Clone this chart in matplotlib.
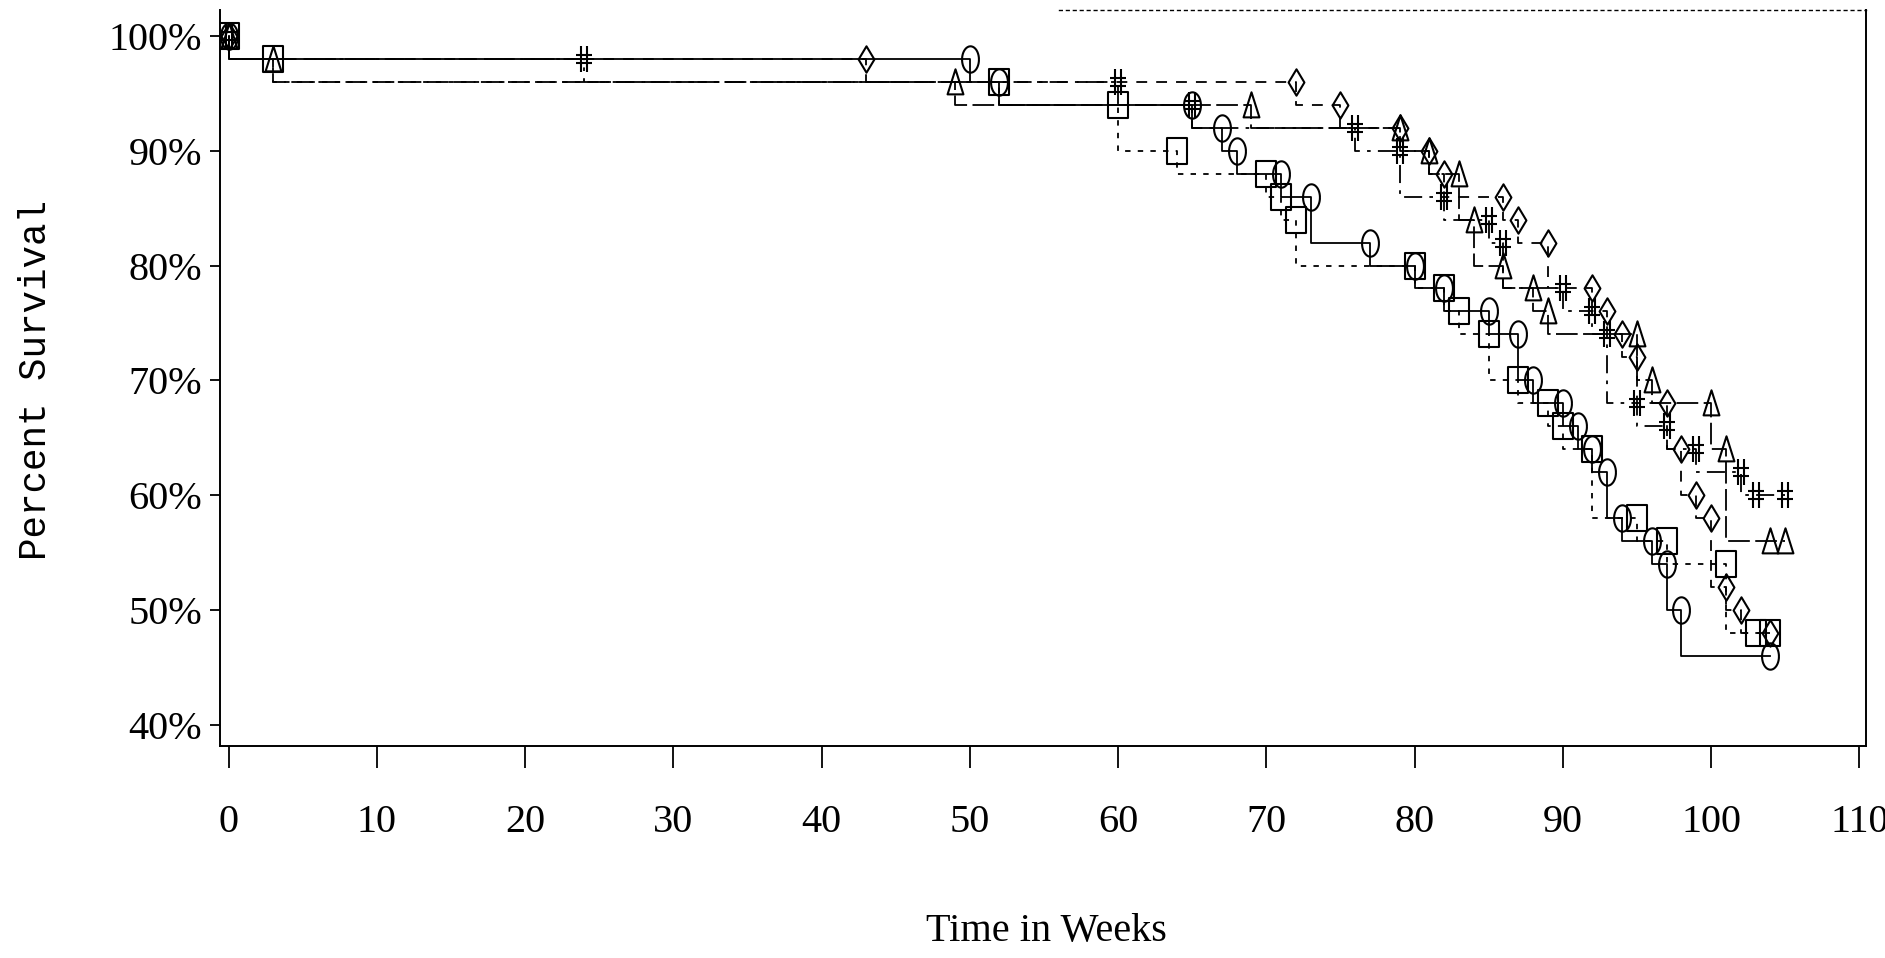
import numpy as np
import matplotlib.pyplot as plt
from matplotlib.path import Path

# survival curves, one per group: time (weeks) of each marker and % survival there
sq_t = [0, 3, 52, 60, 64, 70, 71, 72, 80, 82, 83, 85, 87, 89, 90, 92, 95, 97, 101, 103, 104]
sq_s = [100, 98, 96, 94, 90, 88, 86, 84, 80, 78, 76, 74, 70, 68, 66, 64, 58, 56, 54, 48, 48]

ci_t = [0, 50, 52, 65, 67, 68, 71, 73, 77, 80, 82, 85, 87, 88, 90, 91, 92, 93, 94, 96, 97, 98, 104]
ci_s = [100, 98, 96, 94, 92, 90, 88, 86, 82, 80, 78, 76, 74, 70, 68, 66, 64, 62, 58, 56, 54, 50, 46]

tr_t = [0, 3, 49, 69, 79, 81, 83, 84, 86, 88, 89, 95, 96, 100, 101, 104, 105]
tr_s = [100, 98, 96, 94, 92, 90, 88, 84, 80, 78, 76, 74, 70, 68, 64, 56, 56]

di_t = [0, 43, 72, 75, 79, 81, 82, 86, 87, 89, 92, 93, 94, 95, 97, 98, 99, 100, 101, 102, 104]
di_s = [100, 98, 96, 94, 92, 90, 88, 86, 84, 82, 78, 76, 74, 72, 68, 64, 60, 58, 52, 50, 48]

hs_t = [0, 24, 60, 65, 76, 79, 82, 85, 86, 90, 92, 93, 95, 97, 99, 102, 103, 105]
hs_s = [100, 98, 96, 94, 92, 90, 86, 84, 82, 78, 76, 74, 68, 66, 64, 62, 60, 60]

x_ticks = list(range(0, 111, 10))
y_ticks = [40, 50, 60, 70, 80, 90, 100]
y_labels = ['40%', '50%', '60%', '70%', '80%', '90%', '100%']

# tall, narrow plotting symbols like the old line-printer plot
th = np.linspace(0, 2 * np.pi, 40)
m_circle = Path(np.column_stack([0.32 * np.cos(th), 0.5 * np.sin(th)]))
m_square = Path([(-0.33, -0.45), (0.33, -0.45), (0.33, 0.45), (-0.33, 0.45), (-0.33, -0.45)],
                [Path.MOVETO, Path.LINETO, Path.LINETO, Path.LINETO, Path.CLOSEPOLY])
m_diamond = Path([(0, 0.5), (0.3, 0), (0, -0.5), (-0.3, 0), (0, 0.5)],
                 [Path.MOVETO, Path.LINETO, Path.LINETO, Path.LINETO, Path.CLOSEPOLY])
m_tri = Path([(0, 0.5), (0.3, -0.45), (-0.3, -0.45), (0, 0.5)],
             [Path.MOVETO, Path.LINETO, Path.LINETO, Path.CLOSEPOLY])
m_hash = Path([(-0.12, -0.5), (-0.12, 0.5), (0.12, -0.5), (0.12, 0.5),
               (-0.3, 0.15), (0.3, 0.15), (-0.3, -0.15), (0.3, -0.15)],
              [Path.MOVETO, Path.LINETO] * 4)

groups = [
    (sq_t, sq_s, m_square, (0, (3, 4))),
    (ci_t, ci_s, m_circle, '-'),
    (tr_t, tr_s, m_tri, (0, (12, 3))),
    (di_t, di_s, m_diamond, (0, (6, 5))),
    (hs_t, hs_s, m_hash, (0, (10, 4, 2, 4))),
]

fig = plt.figure(figsize=(18.85, 9.58), dpi=100)
ax = fig.add_axes([0.1167, 0.2213, 0.8732, 0.7683])

for t, s, mk, ls in groups:
    ax.step(t, s, where='pre', color='black', lw=1.3, linestyle=ls)
    ax.plot(t, s, ls='none', marker=mk, ms=19, mfc='none', mec='black', mew=1.5)

ax.set_xlim(-0.58, 110.45)
ax.set_ylim(38.15, 102.26)

ax.set_xticks(x_ticks)
ax.set_xticklabels([str(v) for v in x_ticks])
ax.set_yticks(y_ticks)
ax.set_yticklabels(y_labels)

for lab in ax.get_xticklabels() + ax.get_yticklabels():
    lab.set_fontfamily('Liberation Serif')
    lab.set_fontsize(29)

ax.tick_params(axis='x', direction='out', length=16, width=1.3, pad=26)
ax.tick_params(axis='y', direction='out', length=7, width=1.3, pad=6)

for side in ['left', 'right', 'bottom']:
    ax.spines[side].set_linewidth(1.4)
ax.spines['top'].set_bounds(56, 110.45)
ax.spines['top'].set_linestyle((0, (2, 3)))
ax.spines['top'].set_linewidth(1.0)

fig.text(36 / 1885, 1 - 380 / 958, 'Percent Survival', rotation=90,
         ha='center', va='center', family='Liberation Mono', fontsize=27)
fig.text(1046 / 1885, 1 - 932 / 958, 'Time in Weeks',
         ha='center', va='center', family='Liberation Serif', fontsize=29)

fig.savefig('out.png', dpi=100, facecolor='white')
